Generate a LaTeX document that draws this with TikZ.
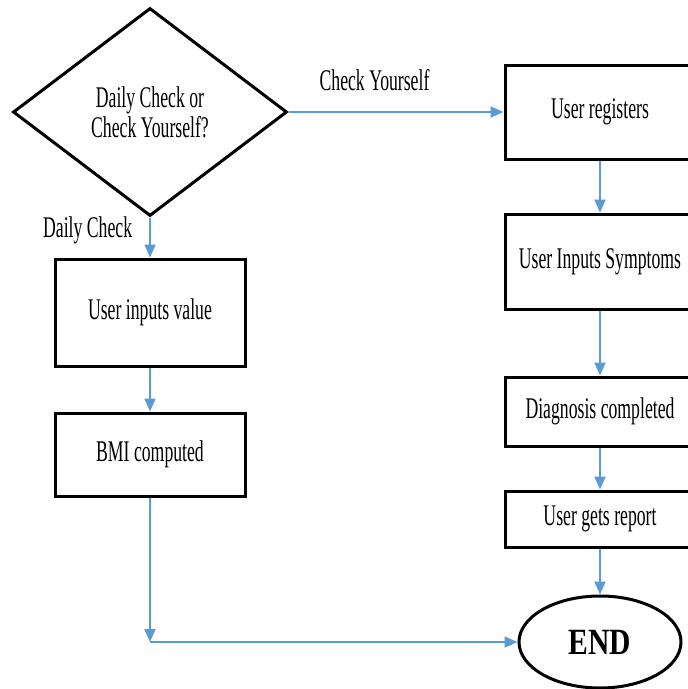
\documentclass[tikz,border=0pt]{standalone}
\usepackage{fontspec}
\setmainfont{Liberation Serif}[FakeStretch=0.59]
\newfontfamily\endfont{Liberation Serif}[FakeStretch=0.8]
\usetikzlibrary{arrows.meta,shapes.geometric}
\definecolor{flowblue}{RGB}{91,155,213}

\begin{document}
\begin{tikzpicture}[
  x=1pt, y=-1pt,
  every node/.style={font=\fontsize{30}{30}\selectfont},
  stepbox/.style={draw, line width=3pt, inner sep=0pt, minimum width=190pt, align=center},
  flowlabel/.style={inner sep=0pt},
  flow/.style={draw=flowblue, line width=1.8pt, -{Triangle[length=13pt,width=11pt]}}
]
  \clip (0,0) rectangle (688,689);
  \node[diamond, draw, line width=3pt, minimum width=274pt, minimum height=208pt, inner sep=0pt, align=center] (choice) at (150,112) {Daily Check or\\Check Yourself?};

  \node[stepbox, minimum height=107pt] (inputs) at (150,312.5) {User inputs value};
  \node[stepbox, minimum height=83pt] (bmi) at (150,454.5) {BMI computed};

  \node[stepbox, minimum height=94pt] (register) at (600,112) {User registers};
  \node[stepbox, minimum height=95pt] (symptoms) at (600,261.5) {User Inputs Symptoms};
  \node[stepbox, minimum height=69pt] (diagnosis) at (600,411.5) {Diagnosis completed};
  \node[stepbox, minimum height=56pt] (report) at (600,519) {User gets report};
  \node[ellipse, draw, line width=3pt, minimum width=162pt, minimum height=92pt, inner sep=0pt] (finish) at (600,642) {\endfont\bfseries\fontsize{37}{37}\selectfont END};
  \coordinate (join) at (bmi |- finish);

  \draw[flow] (choice) -- node[flowlabel, pos=0.4, above=20pt] {Check Yourself} (register);
  \draw[flow] (choice) -- node[flowlabel, pos=0.32, left=17pt] {Daily Check} (inputs);
  \draw[flow] (inputs) -- (bmi);
  \draw[flow] (bmi) -- (join);
  \draw[flow] (join) -- (finish);
  \draw[flow] (register) -- (symptoms);
  \draw[flow] (symptoms) -- (diagnosis);
  \draw[flow] (diagnosis) -- (report);
  \draw[flow] (report) -- (finish);
\end{tikzpicture}
\end{document}
